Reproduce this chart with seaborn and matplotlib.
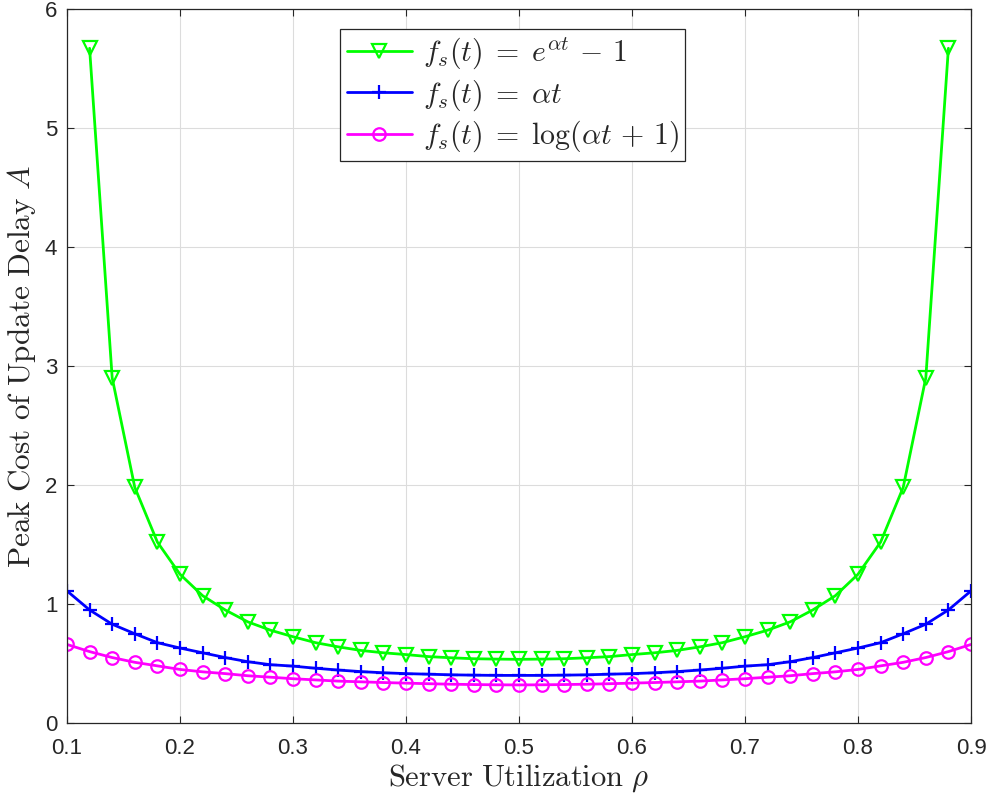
import numpy as np
import pandas as pd
import matplotlib
matplotlib.use("Agg")
import matplotlib.pyplot as plt
import seaborn as sns

# ---- data ----
rho_exp = [0.12, 0.14, 0.16, 0.18, 0.20, 0.22, 0.24, 0.26, 0.28, 0.30, 0.32, 0.34, 0.36, 0.38,
           0.40, 0.42, 0.44, 0.46, 0.48, 0.50, 0.52, 0.54, 0.56, 0.58, 0.60, 0.62, 0.64, 0.66,
           0.68, 0.70, 0.72, 0.74, 0.76, 0.78, 0.80, 0.82, 0.84, 0.86, 0.88]
A_exp = [5.67, 2.90, 1.98, 1.52, 1.25, 1.07, 0.95, 0.85, 0.78, 0.725, 0.675, 0.64, 0.61, 0.59,
         0.575, 0.558, 0.548, 0.54, 0.537, 0.535, 0.537, 0.54, 0.548, 0.558, 0.575, 0.59, 0.61,
         0.64, 0.675, 0.725, 0.78, 0.85, 0.95, 1.07, 1.25, 1.52, 1.98, 2.90, 5.67]

rho_lin = [0.10, 0.12, 0.14, 0.16, 0.18, 0.20, 0.22, 0.24, 0.26, 0.28, 0.30, 0.32, 0.34, 0.36,
           0.38, 0.40, 0.42, 0.44, 0.46, 0.48, 0.50, 0.52, 0.54, 0.56, 0.58, 0.60, 0.62, 0.64,
           0.66, 0.68, 0.70, 0.72, 0.74, 0.76, 0.78, 0.80, 0.82, 0.84, 0.86, 0.88, 0.90]
A_lin = [1.11, 0.95, 0.83, 0.75, 0.675, 0.63, 0.59, 0.55, 0.515, 0.49, 0.478, 0.46, 0.445, 0.432,
         0.422, 0.415, 0.41, 0.405, 0.402, 0.40, 0.40, 0.40, 0.402, 0.405, 0.41, 0.415, 0.422,
         0.432, 0.445, 0.46, 0.478, 0.49, 0.515, 0.55, 0.59, 0.63, 0.675, 0.75, 0.83, 0.95, 1.11]

rho_log = rho_lin
A_log = [0.66, 0.60, 0.55, 0.51, 0.48, 0.45, 0.43, 0.415, 0.397, 0.385, 0.372, 0.362, 0.352, 0.346,
         0.34, 0.335, 0.33, 0.326, 0.323, 0.321, 0.32, 0.321, 0.323, 0.326, 0.33, 0.335, 0.34,
         0.346, 0.352, 0.362, 0.372, 0.385, 0.397, 0.415, 0.43, 0.45, 0.48, 0.51, 0.55, 0.60, 0.66]

labels = [r'$f_s(t)\;=\;e^{\alpha t}\,-\,1$',
          r'$f_s(t)\;=\;\alpha t$',
          r'$f_s(t)\;=\;\log(\alpha t\,+\,1)$']
x_ticks = [0.1, 0.2, 0.3, 0.4, 0.5, 0.6, 0.7, 0.8, 0.9]
y_ticks = [0, 1, 2, 3, 4, 5, 6]

sns.set_theme(style="white")
plt.rcParams['font.family'] = ['Liberation Sans', 'DejaVu Sans']
plt.rcParams['mathtext.fontset'] = 'cm'

fig = plt.figure(figsize=(9.88, 8.0), dpi=100)
ax = fig.add_axes([0.0678, 0.09625, 0.915, 0.8925])

styles = [
    dict(x=rho_exp, y=A_exp, color=(0, 1, 0), marker='v', ms=10),
    dict(x=rho_lin, y=A_lin, color=(0, 0, 1), marker='+', ms=10),
    dict(x=rho_log, y=A_log, color=(1, 0, 1), marker='o', ms=9),
]
for st, lab in zip(styles, labels):
    sns.lineplot(x=st['x'], y=st['y'], ax=ax, color=st['color'], marker=st['marker'],
                 markersize=st['ms'], markerfacecolor='none', markeredgecolor=st['color'],
                 markeredgewidth=1.6, linewidth=2.0, label=lab, sort=False)

ax.set_xlim(0.1, 0.9)
ax.set_ylim(0, 6)
ax.set_xticks(x_ticks)
ax.set_xticklabels([f"{v:g}" for v in x_ticks])
ax.set_yticks(y_ticks)
ax.set_yticklabels([str(v) for v in y_ticks])
ax.grid(True, color='#dcdcdc', linewidth=0.8)
ax.tick_params(direction='in', length=5, width=0.8, colors='#262626', labelsize=16,
               top=True, right=True, bottom=True, left=True, labelcolor='#262626')
ax.tick_params(axis='x', pad=11)
ax.tick_params(axis='y', pad=7)
for s in ax.spines.values():
    s.set_visible(True)
    s.set_color('#262626')
    s.set_linewidth(0.9)

ax.set_xlabel(r'$\mathrm{Server\ Utilization}\ \rho$', fontsize=22, color='#262626', labelpad=2)
ax.set_ylabel(r'$\mathrm{Peak\ Cost\ of\ Update\ Delay}\ A$', fontsize=22.5, color='#262626', labelpad=5)

leg = ax.legend(loc='upper left', bbox_to_anchor=(0.302, 0.972), fontsize=21.5, frameon=True,
                fancybox=False, edgecolor='#262626', framealpha=1, borderpad=0.22,
                handlelength=2.2, handletextpad=0.35, labelspacing=0.2, borderaxespad=0)
leg.get_frame().set_linewidth(0.9)

fig.savefig('out.png', dpi=100)
